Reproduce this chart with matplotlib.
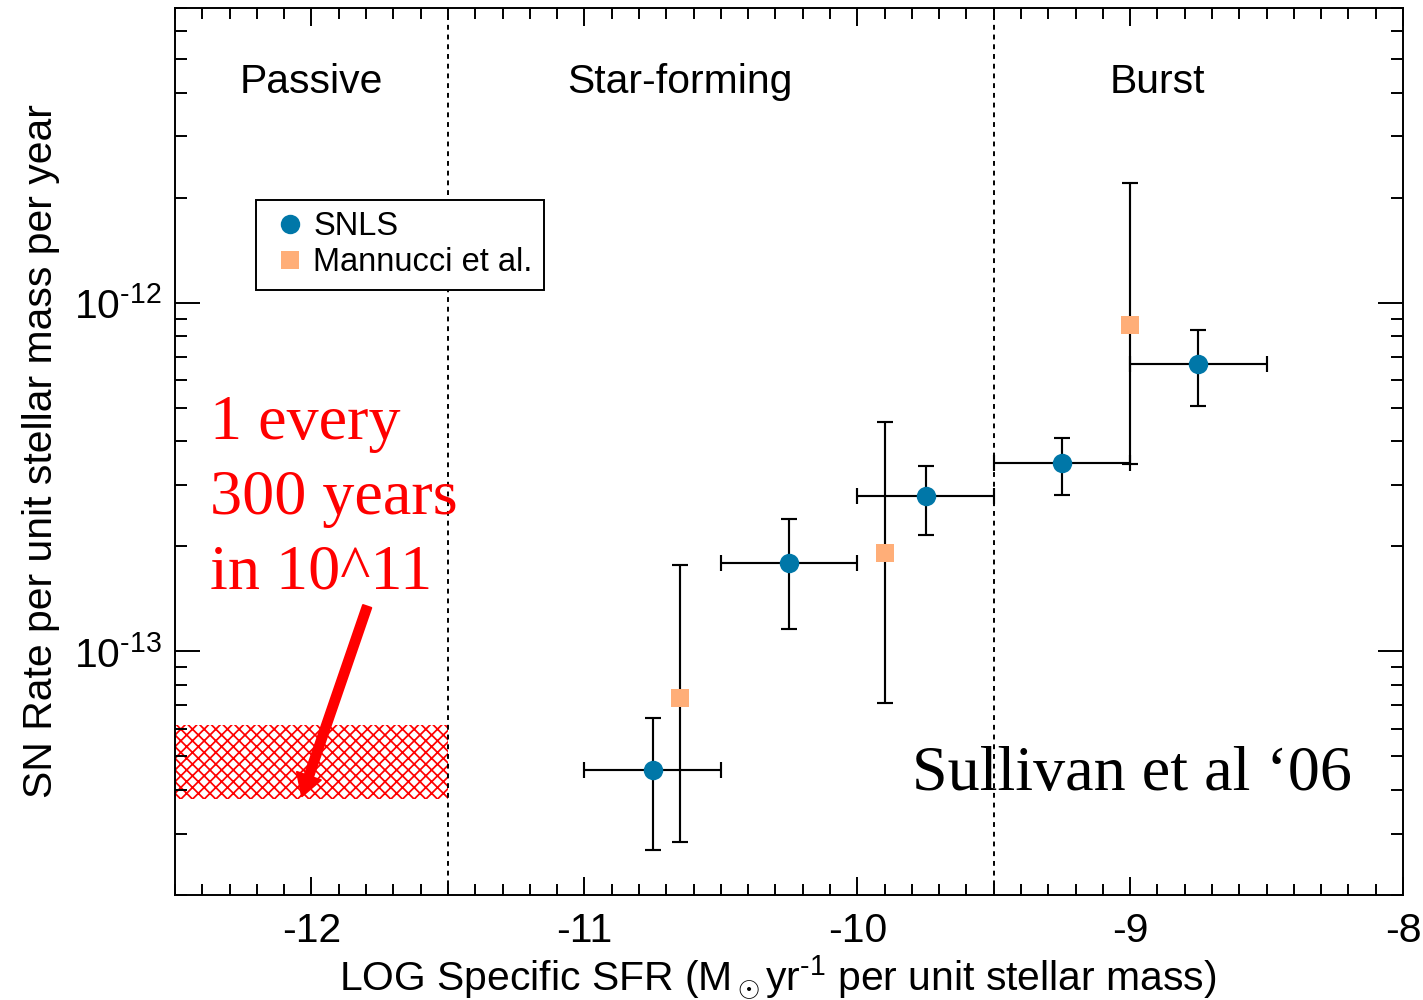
import matplotlib
matplotlib.use('Agg')
import matplotlib.pyplot as plt
from matplotlib.lines import Line2D
from matplotlib.ticker import MultipleLocator, LogLocator, NullFormatter, FixedLocator, FuncFormatter
import numpy as np

plt.rcParams['font.family'] = ['Liberation Sans', 'DejaVu Sans']
plt.rcParams['mathtext.fontset'] = 'custom'
plt.rcParams['mathtext.rm'] = 'Liberation Sans'
plt.rcParams['mathtext.it'] = 'Liberation Sans:italic'
plt.rcParams['axes.unicode_minus'] = False
plt.rcParams['hatch.linewidth'] = 0.9

# SNLS (log sSFR bins, rate per unit mass per year)
snls_x = [-10.75, -10.25, -9.75, -9.25, -8.75]
snls_xlo = [-11.0, -10.5, -10.0, -9.5, -9.0]
snls_xhi = [-10.5, -10.0, -9.5, -9.0, -8.5]
snls_y = [4.56e-14, 1.79e-13, 2.78e-13, 3.46e-13, 6.68e-13]
snls_ylo = [2.69e-14, 1.156e-13, 2.16e-13, 2.80e-13, 5.04e-13]
snls_yhi = [6.43e-14, 2.40e-13, 3.39e-13, 4.10e-13, 8.37e-13]

# Mannucci et al.
mann_x = [-10.65, -9.9, -9.0]
mann_y = [7.33e-14, 1.91e-13, 8.65e-13]
mann_ylo = [2.84e-14, 7.10e-14, 3.44e-13]
mann_yhi = [1.77e-13, 4.56e-13, 2.21e-12]

# passive band
band_x = [-12.5, -11.5]
band_ylo = 3.77e-14
band_yhi = 6.14e-14

# region borders and labels
borders = [-11.5, -9.5]
regions = ['Passive', 'Star-forming', 'Burst']
region_x = [-12.0, -10.65, -8.9]

y_major = [1e-13, 1e-12]

arrow_tail = (-11.796, 1.345e-13)
arrow_tip = (-12.035, 3.84e-14)

blue = '#0077a8'
orange = '#ffae78'
HY = '\u2010'  # short hyphen for exponents

dpi = 140
fig = plt.figure(figsize=(1423 / dpi, 1000 / dpi), dpi=dpi)
ax = fig.add_axes([0.123, 0.105, 0.863, 0.887])

ax.set_yscale('log')
ax.set_xlim(-12.5, -8)
ax.set_ylim(2.0e-14, 7.0e-12)

# hatched passive band
ax.fill_between(band_x, band_ylo, band_yhi, facecolor='none', edgecolor='red',
                hatch='xxxx', linewidth=0, zorder=1)

for b in borders:
    ax.axvline(b, color='black', lw=1.0, ls=(0, (2.5, 2.5)), zorder=1)

# error bars
sy = np.array(snls_y)
sx = np.array(snls_x)
ax.errorbar(snls_x, snls_y,
            yerr=[sy - np.array(snls_ylo), np.array(snls_yhi) - sy],
            xerr=[sx - np.array(snls_xlo), np.array(snls_xhi) - sx],
            fmt='none', ecolor='black', elinewidth=1.1, capsize=3.9, capthick=1.1, zorder=2)
my = np.array(mann_y)
ax.errorbar(mann_x, mann_y,
            yerr=[my - np.array(mann_ylo), np.array(mann_yhi) - my],
            fmt='none', ecolor='black', elinewidth=1.1, capsize=3.9, capthick=1.1, zorder=2)

ax.plot(snls_x, snls_y, 'o', color=blue, ms=10, mew=0, zorder=4)
ax.plot(mann_x, mann_y, 's', color=orange, ms=9.5, mew=0, zorder=3)

# region labels
trans = ax.get_xaxis_transform()
for name, xp in zip(regions, region_x):
    ax.text(xp, 0.917, name, transform=trans, ha='center', va='center', fontsize=21)

# legend
handles = [Line2D([], [], ls='none', marker='o', color=blue, ms=10, mew=0),
           Line2D([], [], ls='none', marker='s', color=orange, ms=9.5, mew=0)]
leg = ax.legend(handles, ['SNLS', 'Mannucci et al.'], loc='upper left',
                bbox_to_anchor=(0.066, 0.7835), borderaxespad=0, fontsize=16.8,
                frameon=True, fancybox=False, framealpha=1, edgecolor='black',
                handlelength=1.35, handletextpad=0.05, labelspacing=0.15,
                borderpad=0.35)
leg.get_frame().set_linewidth(1.0)

# annotations
ax.text(-12.372, 0.447, '1 every\n300 years\nin 10^11', transform=trans,
        color='red', fontsize=33, family='Liberation Serif', va='center', ha='left',
        linespacing=1.38)
ax.annotate('', xy=arrow_tip, xytext=arrow_tail,
            arrowprops=dict(facecolor='red', edgecolor='red', width=4.5,
                            headwidth=13, headlength=11, shrink=0))
ax.text(0.6, 0.118, 'Sullivan et al \u201806', transform=ax.transAxes,
        fontsize=33, family='Liberation Serif', va='baseline', ha='left', zorder=5)


def ylabel_fmt(v, pos):
    return '10$^{\\mathdefault{' + HY + str(abs(int(round(np.log10(v))))) + '}}$'


# axes styling
ax.xaxis.set_major_locator(MultipleLocator(1))
ax.xaxis.set_minor_locator(MultipleLocator(0.1))
ax.yaxis.set_major_locator(FixedLocator(y_major))
ax.yaxis.set_major_formatter(FuncFormatter(ylabel_fmt))
ax.yaxis.set_minor_locator(LogLocator(base=10, subs=np.arange(2, 10)))
ax.yaxis.set_minor_formatter(NullFormatter())
ax.tick_params(axis='both', which='both', direction='in', top=True, right=True,
               width=1.0, labelsize=21)
ax.tick_params(axis='x', which='major', length=9.3, pad=9)
ax.tick_params(axis='x', which='minor', length=5.5)
ax.tick_params(axis='y', which='major', length=13, pad=7)
ax.tick_params(axis='y', which='minor', length=6)
for sp in ax.spines.values():
    sp.set_linewidth(1.0)

ax.set_xlabel('LOG Specific SFR (M$_\\odot$yr$^{\\mathdefault{' + HY + '1}}$ per unit stellar mass)',
              fontsize=21)
ax.xaxis.set_label_coords(0.491, -0.066)
ax.set_ylabel('SN Rate per unit stellar mass per year', fontsize=21)
ax.yaxis.set_label_coords(-0.094, 0.5)

fig.savefig('out.png', dpi=dpi)
